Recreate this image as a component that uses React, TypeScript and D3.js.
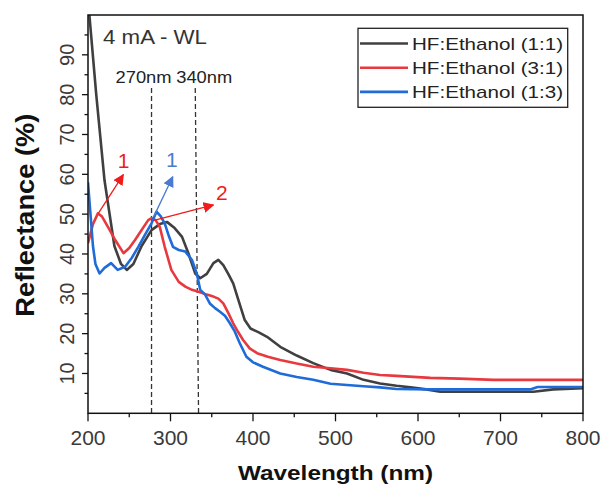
import React, { useEffect, useRef } from "react";
import * as d3 from "d3";

// HF:Ethanol (1:1)
const blackX = [200, 210, 220, 232, 240, 247, 255, 265, 277, 287, 296, 305, 314, 322, 330, 336, 344, 352, 358, 364, 370, 376, 383, 390, 397, 407, 417, 433, 453, 473, 494, 514, 534, 554, 574, 591, 610, 627, 660, 700, 740, 764, 800];
const blackY = [104, 80, 58.5, 42, 37.5, 36, 37.5, 42, 46, 47.5, 48, 46.5, 44.3, 40, 35.1, 33.9, 35, 37.7, 38.5, 37.2, 35, 32.6, 28, 23.4, 21.3, 20.3, 19.2, 16.7, 14.5, 12.6, 10.9, 10, 8.4, 7.5, 6.9, 6.5, 6, 5.4, 5.4, 5.4, 5.4, 6, 6.3];

// HF:Ethanol (3:1)
const redX = [200, 206, 212, 217, 225, 233, 243, 250, 257, 265, 273, 277, 282, 287, 293, 301, 310, 318, 326, 334, 344, 352, 358, 364, 370, 376, 382, 388, 396, 405, 418, 433, 453, 473, 494, 514, 534, 554, 574, 615, 650, 692, 736, 800];
const redY = [42.7, 47.5, 50.2, 49.4, 46.5, 43.5, 40.2, 41.5, 43.5, 46, 48.5, 49, 48.5, 46.8, 41.8, 36, 33, 31.8, 31, 30.5, 29.8, 29.3, 28.8, 27.6, 25.2, 22.6, 20.4, 18.4, 16.3, 15.1, 14.2, 13.4, 12.5, 11.7, 11.3, 10.9, 10.2, 9.6, 9.4, 8.9, 8.7, 8.4, 8.4, 8.4];

// HF:Ethanol (1:3)
const blueX = [200, 203, 206, 209, 214, 220, 228, 236, 245, 253, 261, 269, 277, 283, 288, 293, 298, 303, 310, 318, 326, 332, 336, 342, 348, 354, 360, 366, 372, 378, 384, 392, 400, 412, 433, 453, 473, 494, 514, 534, 554, 574, 615, 660, 700, 736, 745, 800];
const blueY = [58, 50, 42, 37.5, 35.1, 36.5, 37.7, 36, 36.8, 39, 41.8, 44.8, 47.7, 50.6, 49.5, 47.7, 44.5, 41.8, 41, 40.6, 38.5, 35, 31, 29.8, 27.5, 26.4, 25.5, 24.5, 22.6, 20.5, 17.6, 14.2, 12.8, 11.7, 10, 9.1, 8.4, 7.4, 7.1, 6.8, 6.5, 6.1, 6, 6, 6, 6, 6.6, 6.6];

const seriesNames = ["HF:Ethanol (1:1)", "HF:Ethanol (3:1)", "HF:Ethanol (1:3)"];
const seriesColors = ["#404040", "#e8393f", "#1f6bd8"];

const xTicks = [200, 300, 400, 500, 600, 700, 800];
const yTicks = [10, 20, 30, 40, 50, 60, 70, 80, 90];

// annotation arrows: [x0, y0, x1, y1] in data units, label, color
const arrows = [
    { from: [212.5, 50.2], to: [242.8, 59.9], label: "1", at: [243, 61.6], color: "#f01c1c" },
    { from: [280, 49.5], to: [302.7, 59.4], label: "1", at: [301.5, 61.9], color: "#4a7bd0" },
    { from: [278.8, 48.4], to: [352, 52.3], label: "2", at: [362.2, 53.6], color: "#f01c1c" },
];
const markerLines = [
    { top: 277, bottom: 277, label: "270nm" },
    { top: 330, bottom: 334, label: "340nm" },
];

const FONT = "'Liberation Sans', Arial, sans-serif";

const App = () => {
    const ref = useRef(null);

    useEffect(() => {
        const svg = d3.select(ref.current);
        svg.selectAll("*").remove();

        const left = 88, right = 583, top = 15, bottom = 413.3;
        const x = d3.scaleLinear().domain([200, 800]).range([left, right]);
        const y = d3.scaleLinear().domain([0, 100]).range([bottom, top]);

        const defs = svg.append("defs");
        defs.append("clipPath").attr("id", "plot-clip")
            .append("rect").attr("x", left).attr("y", top)
            .attr("width", right - left).attr("height", bottom - top);

        arrows.forEach((a, i) => {
            defs.append("marker")
                .attr("id", "head" + i)
                .attr("viewBox", "0 0 10 10")
                .attr("refX", 9).attr("refY", 5)
                .attr("markerWidth", 11).attr("markerHeight", 11)
                .attr("markerUnits", "userSpaceOnUse")
                .attr("orient", "auto")
                .append("path").attr("d", "M0,0L10,5L0,10Z").attr("fill", a.color);
        });

        // dashed reference lines
        markerLines.forEach((m) => {
            svg.append("line")
                .attr("x1", x(m.top)).attr("y1", 88)
                .attr("x2", x(m.bottom)).attr("y2", bottom)
                .attr("stroke", "#333").attr("stroke-width", 1.3)
                .attr("stroke-dasharray", "5,3");
        });
        svg.append("text").text(markerLines[0].label)
            .attr("x", x(277) + 20).attr("y", 83).attr("text-anchor", "end")
            .attr("font-family", FONT).attr("font-size", 16).attr("fill", "#222")
            .attr("textLength", 56).attr("lengthAdjust", "spacingAndGlyphs");
        svg.append("text").text(markerLines[1].label)
            .attr("x", x(330) - 19).attr("y", 83)
            .attr("font-family", FONT).attr("font-size", 16).attr("fill", "#222")
            .attr("textLength", 56).attr("lengthAdjust", "spacingAndGlyphs");

        // curves
        const line = d3.line().x((d) => x(d[0])).y((d) => y(d[1]));
        const series = [
            d3.zip(blackX, blackY),
            d3.zip(redX, redY),
            d3.zip(blueX, blueY),
        ];
        const g = svg.append("g").attr("clip-path", "url(#plot-clip)");
        series.forEach((s, i) => {
            g.append("path").datum(s)
                .attr("d", line)
                .attr("fill", "none")
                .attr("stroke", seriesColors[i])
                .attr("stroke-width", 2.6)
                .attr("stroke-linejoin", "round");
        });

        // arrows
        arrows.forEach((a, i) => {
            svg.append("line")
                .attr("x1", x(a.from[0])).attr("y1", y(a.from[1]))
                .attr("x2", x(a.to[0])).attr("y2", y(a.to[1]))
                .attr("stroke", a.color).attr("stroke-width", 1.3)
                .attr("marker-end", `url(#head${i})`);
            svg.append("text").text(a.label)
                .attr("x", x(a.at[0])).attr("y", y(a.at[1]))
                .attr("text-anchor", "middle")
                .attr("font-family", FONT).attr("font-size", 21)
                .attr("fill", a.color);
        });

        // frame
        svg.append("rect")
            .attr("x", left).attr("y", top)
            .attr("width", right - left).attr("height", bottom - top)
            .attr("fill", "none").attr("stroke", "#111").attr("stroke-width", 1.5);

        // x axis
        const xAxis = svg.append("g").attr("transform", `translate(0,${bottom})`);
        d3.range(200, 801, 50).forEach((t) => {
            xAxis.append("line")
                .attr("x1", x(t)).attr("x2", x(t))
                .attr("y1", 0).attr("y2", t % 100 === 0 ? 8 : 4)
                .attr("stroke", "#111").attr("stroke-width", 1.3);
        });
        xAxis.selectAll(".xl").data(xTicks).enter().append("text")
            .text((d) => d)
            .attr("x", (d) => x(d)).attr("y", 445 - bottom)
            .attr("text-anchor", "middle")
            .attr("font-family", FONT).attr("font-size", 21).attr("fill", "#3a3a3a");

        // y axis
        const yAxis = svg.append("g").attr("transform", `translate(${left},0)`);
        d3.range(5, 100, 5).forEach((t) => {
            yAxis.append("line")
                .attr("y1", y(t)).attr("y2", y(t))
                .attr("x1", 0).attr("x2", t % 10 === 0 ? -6 : -3.5)
                .attr("stroke", "#111").attr("stroke-width", 1.3);
        });
        yAxis.selectAll(".yl").data(yTicks).enter().append("text")
            .text((d) => d)
            .attr("transform", (d) => `translate(${73.5 - left},${y(d)}) rotate(-90)`)
            .attr("text-anchor", "middle")
            .attr("font-family", FONT).attr("font-size", 20).attr("fill", "#3a3a3a");

        // titles
        svg.append("text").text("Wavelength (nm)")
            .attr("x", (left + right) / 2).attr("y", 480)
            .attr("text-anchor", "middle")
            .attr("font-family", FONT).attr("font-weight", "bold").attr("font-size", 21)
            .attr("fill", "#111")
            .attr("textLength", 195).attr("lengthAdjust", "spacingAndGlyphs");
        svg.append("text").text("Reflectance (%)")
            .attr("transform", `translate(33.5,${(top + bottom) / 2 + 1}) rotate(-90)`)
            .attr("text-anchor", "middle")
            .attr("font-family", FONT).attr("font-weight", "bold").attr("font-size", 25)
            .attr("fill", "#111")
            .attr("textLength", 203).attr("lengthAdjust", "spacingAndGlyphs");

        svg.append("text").text("4 mA - WL")
            .attr("x", 103).attr("y", 44)
            .attr("font-family", FONT).attr("font-size", 20).attr("fill", "#333")
            .attr("textLength", 104).attr("lengthAdjust", "spacingAndGlyphs");

        // legend
        const legend = svg.append("g");
        legend.append("rect")
            .attr("x", 358).attr("y", 28.3).attr("width", 209.7).attr("height", 79)
            .attr("fill", "white").attr("stroke", "#222").attr("stroke-width", 1.3);
        seriesNames.forEach((name, i) => {
            const ly = 43.5 + i * 24.2;
            legend.append("line")
                .attr("x1", 360).attr("x2", 408).attr("y1", ly).attr("y2", ly)
                .attr("stroke", seriesColors[i]).attr("stroke-width", 2.6);
            legend.append("text").text(name)
                .attr("x", 412).attr("y", ly + 6.5)
                .attr("font-family", FONT).attr("font-size", 17).attr("fill", "#222")
                .attr("textLength", 151).attr("lengthAdjust", "spacingAndGlyphs");
        });
    }, []);

    return (
        <svg ref={ref} width={602} height={487}
            style={{ position: "absolute", left: 0, top: 0, background: "white" }} />
    );
};

export default App;
